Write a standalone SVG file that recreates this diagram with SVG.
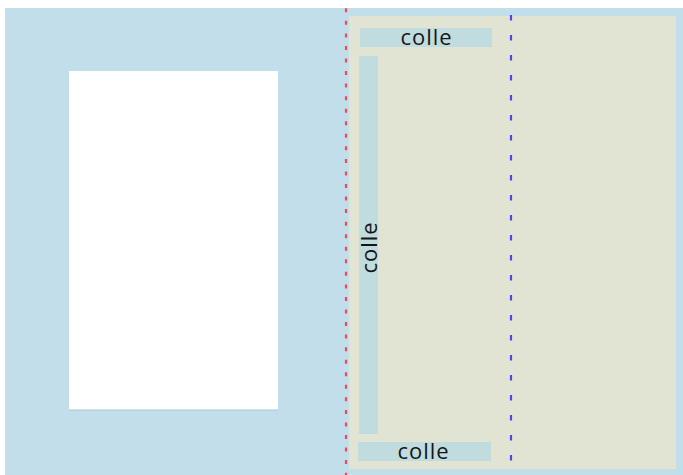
<svg xmlns="http://www.w3.org/2000/svg" width="683" height="475" viewBox="0 0 683 475">
<style>
.colle{fill:#c0dcdf}
.lbl{font-family:"Open Sans","Lato","DejaVu Sans",sans-serif;font-size:22px;fill:#151515;text-anchor:middle}
</style>
<rect x="0" y="0" width="683" height="475" fill="#ffffff"/>
<rect id="background" x="5" y="8" width="678" height="467" fill="#c2deeb"/>
<g id="page">
<rect x="69" y="71" width="209" height="339" fill="#ffffff"/>
<line x1="69" y1="410" x2="278" y2="410" stroke="#aac5d2" stroke-width="1"/>
</g>
<rect id="panel" x="349" y="16" width="327" height="453" fill="#e1e4d2"/>
<g id="colle-top">
<rect class="colle" x="360" y="28" width="132" height="19"/>
<text class="lbl" x="426" y="44.5" textLength="51" lengthAdjust="spacing">colle</text>
</g>
<g id="colle-side">
<rect class="colle" x="359" y="56" width="19" height="378"/>
<text class="lbl" transform="translate(376.5,248) rotate(-90)" x="0" y="0" textLength="51" lengthAdjust="spacing">colle</text>
</g>
<g id="colle-bottom">
<rect class="colle" x="358" y="442" width="133" height="19"/>
<text class="lbl" x="423" y="458.5" textLength="51" lengthAdjust="spacing">colle</text>
</g>
<g id="lines">
<line x1="346" y1="-4.25" x2="346" y2="475" stroke="#f04a55" stroke-width="2.2" stroke-dasharray="4 8.55"/>
<line x1="511" y1="15" x2="511" y2="461" stroke="#4a46f0" stroke-width="2.2" stroke-dasharray="5.5 14.5"/>
</g>
</svg>
